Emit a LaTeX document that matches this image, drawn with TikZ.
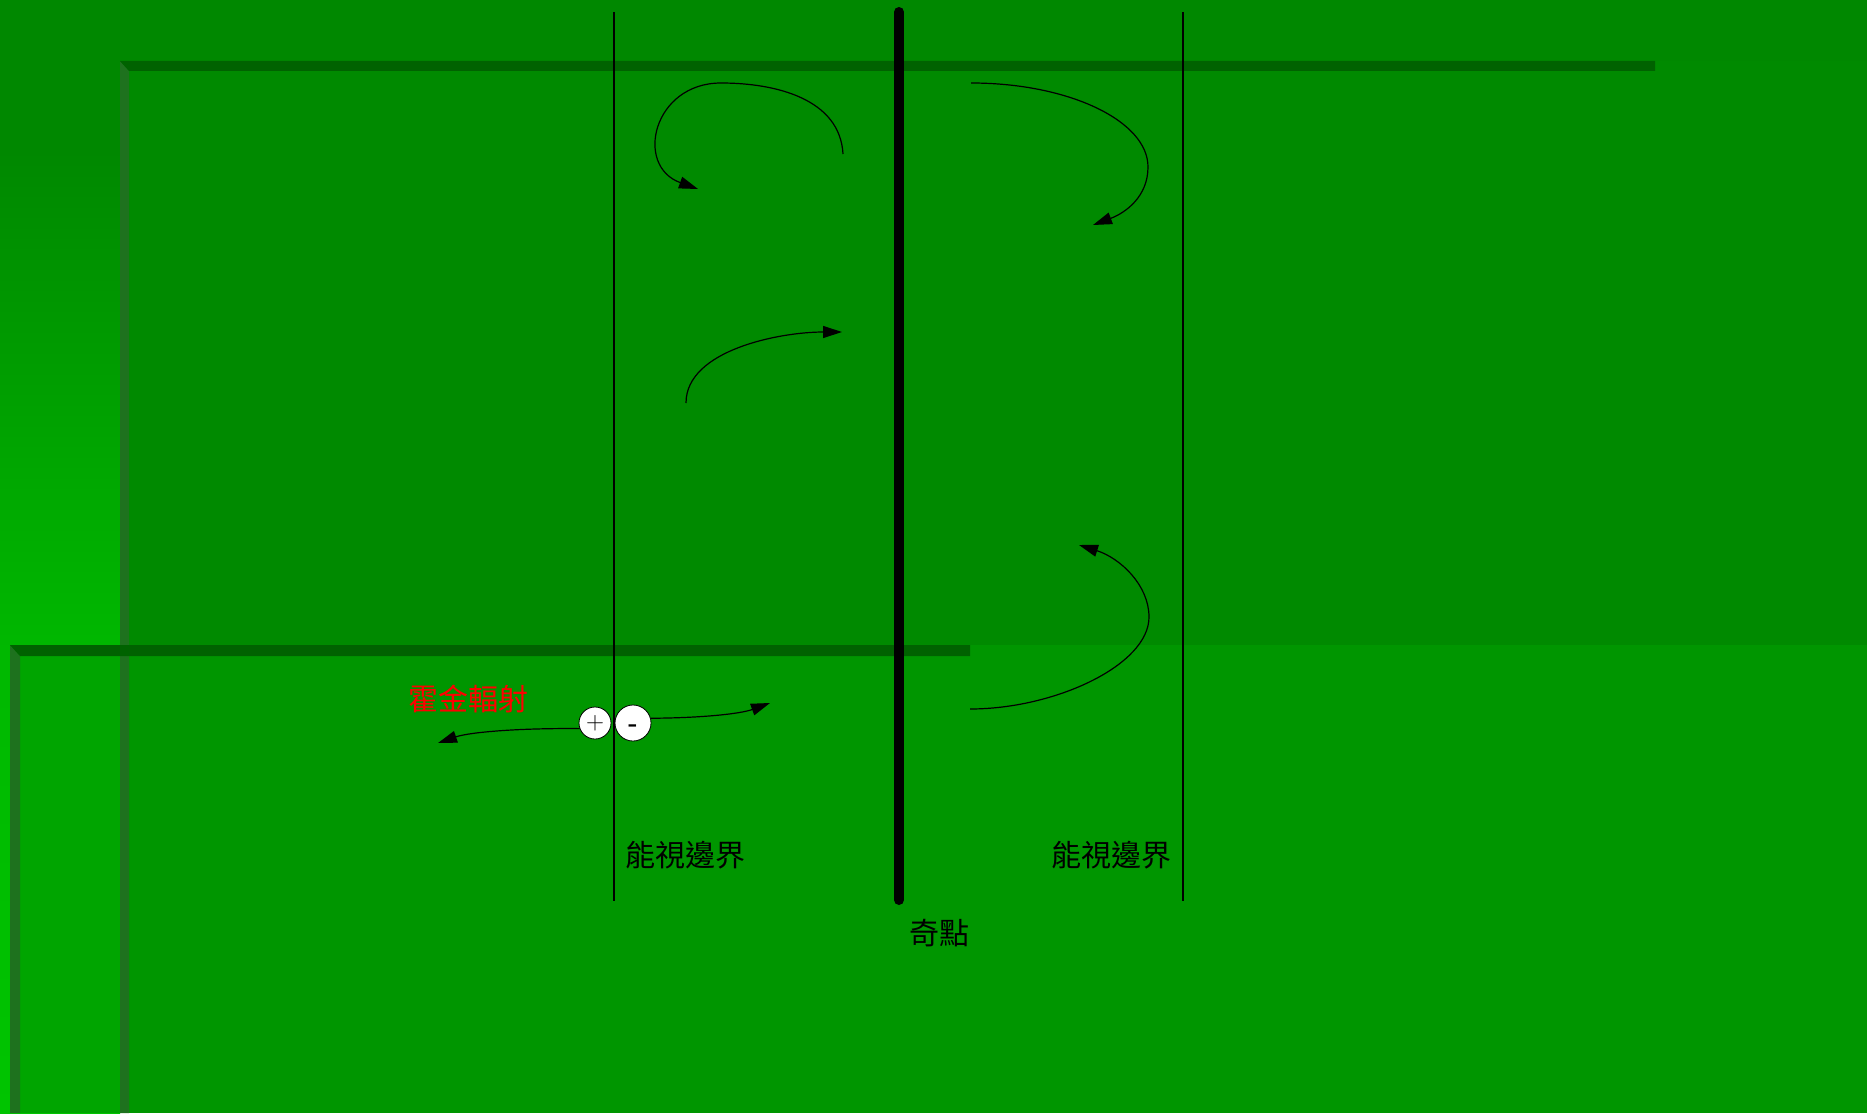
\documentclass[tikz,border=0pt]{standalone}
\usepackage{fontspec}
\newfontfamily\cjk{Noto Sans CJK TC}
\usetikzlibrary{arrows.meta}
\definecolor{bgtop}{RGB}{0,136,0}
\definecolor{bgmid}{RGB}{0,184,0}
\definecolor{bgbot}{RGB}{0,196,0}
\definecolor{paneA}{RGB}{0,138,0}
\definecolor{paneB}{RGB}{0,150,0}
\definecolor{paneBl}{RGB}{0,165,0}
\definecolor{barH}{RGB}{0,98,0}
\definecolor{barV}{RGB}{30,114,30}

\begin{document}
\begin{tikzpicture}[x=1pt,y=1pt,>={Triangle[length=19pt,width=12pt]},
  arr/.style={->,line width=1.2pt},
  horline/.style={line width=1.1pt},
  lbl/.style={font=\cjk\fontsize{30}{36}\selectfont,inner sep=0pt},
  pm/.style={circle,draw,fill=white,line width=0.8pt,inner sep=0pt}]
  \useasboundingbox (0,0) rectangle (1867,-1113);
  % --- background ---
  \fill[bgtop] (0,0) rectangle (1867,-1113);
  \shade[top color=bgtop,bottom color=bgmid] (0,-150) rectangle (120,-650);
  \shade[top color=bgmid,bottom color=bgbot] (0,-650) rectangle (120,-1113);
  % --- panels ---
  \fill[paneA] (120,-61) rectangle (1867,-1113);
  \fill[paneB] (10,-645) rectangle (1867,-1113);
  \fill[paneBl] (20,-656) rectangle (120,-1113);
  \fill[barV] (120,-61) -- (129,-71) -- (129,-1113) -- (120,-1113) -- cycle;
  \fill[barH] (120,-61) -- (1655,-61) -- (1655,-71) -- (129,-71) -- cycle;
  \fill[barV] (10,-645) -- (20,-656) -- (20,-1113) -- (10,-1113) -- cycle;
  \fill[barH] (10,-645) -- (970,-645) -- (970,-656) -- (20,-656) -- cycle;
  % --- horizons and singularity ---
  \coordinate (h1t) at (614,-12); \coordinate (h1b) at (614,-901);
  \coordinate (h2t) at (1183,-12); \coordinate (h2b) at (1183,-901);
  \coordinate (st) at (899,-12); \coordinate (sb) at (899,-900);
  \draw[horline] (h1t) -- (h1b);
  \draw[horline] (h2t) -- (h2b);
  \draw[line width=10pt,line cap=round] (st) -- (sb);
  % --- labels ---
  \node[lbl] (hzL) at (685,-855) {能視邊界};
  \node[lbl] (hzR) at (1111,-855) {能視邊界};
  \node[lbl] (sing) at (939,-933) {奇點};
  \node[lbl,text=red] (hawk) at (468,-699) {霍金輻射};
  % --- particle pair ---
  \node[pm,minimum size=32pt,font=\fontsize{25}{26}\selectfont] (plus) at (595,-723) {+};
  \node[pm,minimum size=36pt,font=\bfseries\fontsize{25}{26}\selectfont] (minus) at (633,-723) {\smash{\raisebox{-8pt}{-}}};
  \coordinate (hawkTip) at (438,-743);
  \coordinate (inTip) at (770,-703);
  \draw[arr] (plus.200) .. controls (520,-728) and (470,-732) .. (hawkTip);
  \draw[arr] (minus.15) .. controls (700,-718) and (740,-714) .. (inTip);
  % --- paths near the singularity ---
  \coordinate (tlA) at (843,-154); \coordinate (tlM) at (721,-83); \coordinate (tlB) at (698,-189);
  \draw[arr] (tlA) .. controls (840,-99) and (776,-83) .. (tlM) .. controls (653,-83) and (634,-166) .. (tlB);
  \coordinate (trA) at (971,-83); \coordinate (trM) at (1148,-167); \coordinate (trB) at (1093,-225);
  \draw[arr] (trA) .. controls (1069,-83) and (1148,-121) .. (trM) .. controls (1148,-197) and (1125,-213) .. (trB);
  \coordinate (mlA) at (686,-403); \coordinate (mlB) at (842,-332);
  \draw[arr] (mlA) .. controls (686,-350) and (780,-332) .. (mlB);
  \coordinate (brA) at (970,-709); \coordinate (brM) at (1149,-617); \coordinate (brB) at (1079,-545);
  \draw[arr] (brA) .. controls (1055,-709) and (1149,-665) .. (brM) .. controls (1149,-585) and (1120,-558) .. (brB);
\end{tikzpicture}
\end{document}
